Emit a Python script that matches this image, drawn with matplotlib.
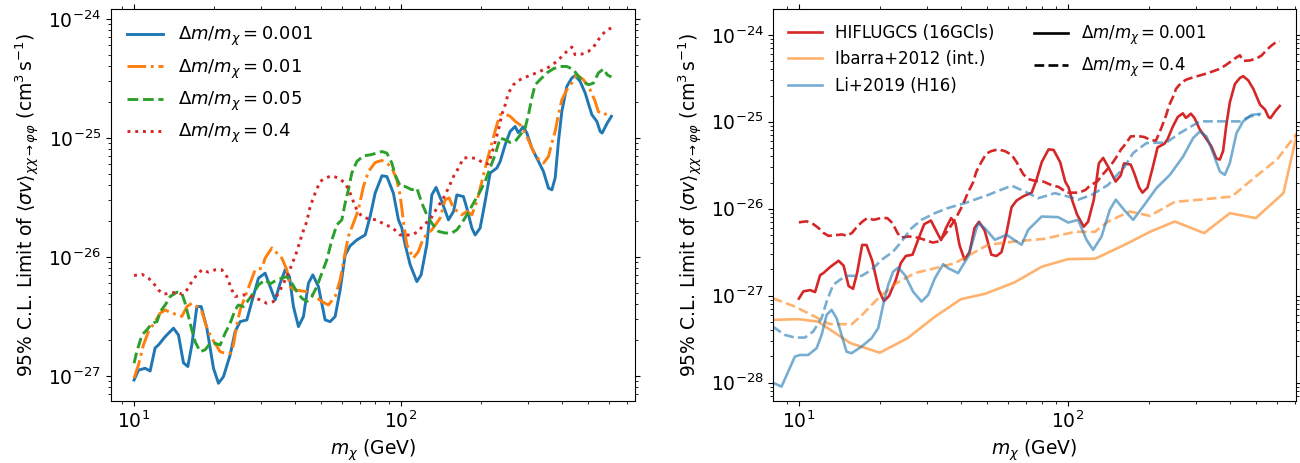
import matplotlib
matplotlib.use("Agg")
import matplotlib.pyplot as plt
from matplotlib.lines import Line2D
from matplotlib.ticker import FixedLocator, NullFormatter

plt.rcParams['font.family'] = ['DejaVu Sans']
plt.rcParams['mathtext.fontset'] = 'dejavusans'

# ---------------- data (left panel) ----------------
# Delta m / m_chi = 0.001  (also HIFLUGCS solid in right panel)
m_001 = [10.0, 10.39, 11.0, 11.49, 11.99, 12.34, 13.08, 14.05, 14.67, 15.31, 15.90, 16.46,
         17.19, 17.84, 18.74, 19.84, 20.71, 21.62, 22.90, 23.91, 24.97, 26.46, 27.62, 29.24,
         30.97, 32.34, 33.77, 35.26, 36.81, 38.19, 39.54, 41.28, 43.10, 45.0, 46.74, 49.05,
         51.96, 54.26, 56.65, 59.15, 61.75, 64.47, 68.3, 73.4, 76.6, 80.0, 84.8, 88.5, 93.6,
         97.8, 100.7, 103.6, 108.2, 114.6, 118.9, 124.9, 130.4, 135.3, 142.2, 150.5, 157.2,
         161.8, 171.3, 176.4, 184.2, 189.5, 197.8, 206.5, 215.6, 228.5, 235.1, 245.5, 256.3,
         267.6, 274.6, 279.3, 286.6, 296.0, 309.0, 322.6, 341.5, 356.6, 367.2, 377.8, 388.7,
         400.2, 417.8, 436.2, 448.7, 468.6, 489.3, 518.4, 541.2, 556.9, 566.6, 591.6, 613.8]
sv_001 = [9.25e-28, 1.12e-27, 1.16e-27, 1.10e-27, 1.72e-27, 1.82e-27, 2.14e-27, 2.52e-27,
          2.21e-27, 1.29e-27, 1.20e-27, 1.82e-27, 3.83e-27, 3.83e-27, 2.52e-27, 1.16e-27,
          8.68e-28, 9.87e-28, 1.50e-27, 2.36e-27, 2.86e-27, 2.96e-27, 4.22e-27, 6.64e-27,
          7.31e-27, 5.63e-27, 4.35e-27, 6.02e-27, 7.80e-27, 6.84e-27, 3.83e-27, 2.60e-27,
          3.16e-27, 6.02e-27, 7.07e-27, 5.63e-27, 2.96e-27, 2.86e-27, 3.16e-27, 5.28e-27,
          1.04e-26, 1.24e-26, 1.39e-26, 1.53e-26, 2.19e-26, 3.44e-26, 4.81e-26, 4.74e-26,
          3.44e-26, 2.05e-26, 1.75e-26, 1.27e-26, 8.59e-27, 6.21e-27, 7.07e-27, 1.27e-26,
          3.32e-26, 3.84e-26, 2.92e-26, 2.05e-26, 2.41e-26, 3.32e-26, 3.22e-26, 2.57e-26,
          1.75e-26, 1.53e-26, 1.75e-26, 2.92e-26, 5.07e-26, 5.59e-26, 6.34e-26, 8.77e-26,
          1.135e-25, 1.25e-25, 1.11e-25, 1.15e-25, 1.24e-25, 1.10e-25, 8.22e-26, 6.78e-26,
          5.23e-26, 3.79e-26, 3.67e-26, 4.60e-26, 9.35e-26, 1.67e-25, 2.71e-25, 3.19e-25,
          3.34e-25, 2.99e-25, 2.39e-25, 1.57e-25, 1.38e-25, 1.135e-25, 1.10e-25, 1.33e-25,
          1.52e-25]

# Delta m / m_chi = 0.01
m_01 = [10.0, 10.39, 10.84, 11.32, 11.99, 12.53, 13.08, 13.86, 14.67, 15.1, 15.77, 16.46,
        17.19, 17.95, 18.74, 19.56, 21.01, 21.94, 22.90, 23.56, 24.27, 24.97, 26.07, 27.22,
        28.42, 30.11, 30.97, 32.82, 34.26, 35.78, 37.35, 38.43, 40.13, 44.38, 47.68, 50.51,
        53.47, 56.65, 59.15, 61.75, 63.5, 66.3, 69.2, 72.3, 75.5, 80.0, 84.8, 88.5, 92.4,
        96.4, 99.2, 102.1, 105.1, 111.1, 115.9, 121.3, 130.4, 140.1, 146.3, 151.4, 157.2,
        168.9, 176.4, 184.2, 192.3, 200.8, 209.6, 218.8, 228.5, 235.1, 245.5, 256.3, 267.6,
        279.3, 296.0, 313.3, 331.9, 341.5, 356.6, 367.2, 377.8, 388.7, 400.2, 417.8, 436.2,
        455.3, 482.1, 510.8, 533.3, 548.7, 571.5, 601.9, 613.8]
sv_01 = [9.6e-28, 1.24e-27, 1.82e-27, 2.36e-27, 2.86e-27, 3.37e-27, 3.59e-27, 3.37e-27,
         3.26e-27, 3.16e-27, 3.83e-27, 4.08e-27, 3.83e-27, 3.47e-27, 2.52e-27, 2.07e-27,
         1.60e-27, 1.55e-27, 1.55e-27, 1.82e-27, 2.69e-27, 3.59e-27, 4.65e-27, 6.02e-27,
         7.80e-27, 8.05e-27, 9.77e-27, 1.19e-26, 1.08e-26, 9.77e-27, 7.80e-27, 5.63e-27,
         5.28e-27, 5.11e-27, 4.65e-27, 4.22e-27, 3.95e-27, 4.65e-27, 6.42e-27, 1.08e-26,
         1.49e-26, 1.92e-26, 2.49e-26, 3.91e-26, 5.23e-26, 6.22e-26, 6.47e-26, 6.15e-26,
         5.61e-26, 4.45e-26, 3.32e-26, 1.99e-26, 1.27e-26, 9.77e-27, 1.10e-26, 1.44e-26,
         1.69e-26, 2.12e-26, 3.02e-26, 3.14e-26, 2.57e-26, 2.26e-26, 2.41e-26, 2.26e-26,
         2.92e-26, 4.31e-26, 6.34e-26, 9.06e-26, 1.29e-25, 1.57e-25, 1.59e-25, 1.52e-25,
         1.38e-25, 1.29e-25, 1.03e-25, 7.69e-26, 6.34e-26, 6.15e-26, 6.98e-26, 9.06e-26,
         1.135e-25, 1.57e-25, 2.09e-25, 2.54e-25, 2.89e-25, 3.40e-25, 3.09e-25, 2.54e-25,
         2.03e-25, 1.66e-25, 1.57e-25, 1.62e-25, 1.60e-25]

# Delta m / m_chi = 0.05
m_05 = [10.0, 10.24, 10.70, 11.17, 11.66, 12.19, 12.53, 13.08, 13.65, 14.47, 15.10, 15.54,
        15.99, 16.46, 16.93, 17.69, 18.46, 19.28, 20.13, 21.01, 21.94, 22.90, 23.91, 24.60,
        25.7, 26.82, 28.0, 29.24, 30.97, 32.34, 34.26, 35.78, 37.35, 38.99, 40.71, 42.51,
        44.38, 46.34, 48.37, 50.51, 52.73, 55.06, 57.49, 60.0, 61.75, 63.5, 65.4, 68.3, 72.3,
        76.6, 81.2, 84.8, 88.5, 92.4, 95.0, 99.2, 103.6, 109.8, 114.6, 119.7, 124.9, 130.4,
        138.1, 146.3, 155.0, 161.8, 168.9, 176.4, 186.7, 197.8, 206.5, 215.6, 225.1, 235.1,
        245.5, 256.3, 267.6, 279.3, 291.6, 300.1, 309.0, 317.9, 331.9, 351.6, 372.3, 394.5,
        417.8, 442.3, 461.9, 482.1, 503.4, 525.6, 548.7, 573.4, 591.6, 613.8]
sv_05 = [1.28e-27, 1.60e-27, 2.21e-27, 2.44e-27, 2.77e-27, 2.86e-27, 3.47e-27, 3.95e-27,
         4.65e-27, 5.06e-27, 4.96e-27, 4.08e-27, 3.16e-27, 2.44e-27, 1.94e-27, 1.60e-27,
         1.66e-27, 1.88e-27, 1.88e-27, 1.82e-27, 2.29e-27, 2.77e-27, 3.59e-27, 3.95e-27,
         3.83e-27, 4.35e-27, 4.96e-27, 5.82e-27, 6.42e-27, 5.94e-27, 6.42e-27, 6.64e-27,
         6.84e-27, 6.02e-27, 5.11e-27, 4.50e-27, 4.22e-27, 4.65e-27, 5.63e-27, 7.31e-27,
         9.46e-27, 1.39e-26, 1.86e-26, 2.05e-26, 2.83e-26, 3.67e-26, 5.07e-26, 6.34e-26,
         7.08e-26, 7.21e-26, 7.46e-26, 7.69e-26, 7.46e-26, 6.15e-26, 4.91e-26, 3.96e-26,
         3.91e-26, 3.67e-26, 3.79e-26, 2.83e-26, 2.26e-26, 1.92e-26, 1.64e-26, 1.59e-26,
         1.59e-26, 1.69e-26, 1.92e-26, 2.26e-26, 2.83e-26, 3.55e-26, 4.31e-26, 5.59e-26,
         7.23e-26, 9.98e-26, 9.66e-26, 9.17e-26, 9.35e-26, 1.06e-25, 1.21e-25, 1.57e-25,
         2.17e-25, 2.80e-25, 3.09e-25, 3.52e-25, 3.82e-25, 3.99e-25, 3.99e-25, 3.75e-25,
         3.29e-25, 2.99e-25, 2.80e-25, 2.89e-25, 3.52e-25, 3.80e-25, 3.40e-25, 3.25e-25]

# Delta m / m_chi = 0.4  (also HIFLUGCS dashed in right panel)
m_4 = [10.0, 10.70, 11.32, 11.82, 12.34, 12.89, 13.65, 14.47, 15.10, 15.77, 16.46, 17.19,
       17.95, 18.99, 20.13, 21.32, 22.27, 23.25, 23.91, 25.69, 27.62, 29.67, 31.44, 33.28,
       35.26, 37.35, 38.99, 40.71, 42.51, 44.38, 45.67, 47.68, 49.78, 51.96, 55.06, 58.29,
       61.75, 64.47, 66.3, 68.3, 71.3, 75.5, 81.2, 87.2, 92.4, 99.2, 109.8, 116.2, 121.3,
       128.5, 136.2, 144.1, 150.5, 157.2, 164.1, 171.3, 181.5, 192.3, 203.5, 212.5, 221.8,
       231.6, 238.5, 245.5, 252.5, 263.6, 275.4, 291.6, 309.0, 327.1, 346.5, 361.8, 383.3,
       400.2, 417.8, 436.2, 448.7, 475.6, 503.4, 525.6, 548.7, 571.5, 591.6, 613.8]
sv_4 = [6.98e-27, 7.16e-27, 6.64e-27, 6.02e-27, 5.28e-27, 4.87e-27, 4.96e-27, 5.06e-27,
        4.87e-27, 5.28e-27, 6.21e-27, 7.07e-27, 7.80e-27, 7.45e-27, 7.80e-27, 7.80e-27,
        6.84e-27, 5.28e-27, 4.65e-27, 4.80e-27, 4.65e-27, 4.35e-27, 4.08e-27, 4.22e-27,
        5.28e-27, 6.84e-27, 8.59e-27, 1.11e-26, 1.53e-26, 1.99e-26, 2.66e-26, 3.44e-26,
        4.31e-26, 4.60e-26, 4.81e-26, 4.60e-26, 4.18e-26, 3.44e-26, 2.92e-26, 2.49e-26,
        2.19e-26, 2.09e-26, 2.05e-26, 1.86e-26, 1.78e-26, 1.53e-26, 1.53e-26, 1.64e-26,
        1.86e-26, 2.05e-26, 2.57e-26, 3.12e-26, 3.79e-26, 4.74e-26, 5.59e-26, 6.78e-26,
        6.86e-26, 6.68e-26, 6.15e-26, 6.06e-26, 8.22e-26, 1.17e-25, 1.57e-25, 1.90e-25,
        2.39e-25, 2.80e-25, 3.05e-25, 3.23e-25, 3.40e-25, 3.58e-25, 3.80e-25, 3.99e-25,
        4.40e-25, 4.84e-25, 5.34e-25, 5.81e-25, 5.01e-25, 5.07e-25, 5.34e-25, 5.79e-25,
        6.70e-25, 7.52e-25, 8.13e-25, 8.39e-25]

# ---------------- data (right panel, comparisons) ----------------
m_ibarra = [8.0, 10.0, 11.77, 15.57, 20.0, 25.33, 32.08, 40.06, 49.22, 63.3, 80.2, 100.0,
            126.6, 162.7, 203.2, 249.7, 321.2, 400.5, 499.8, 633.2, 712.0]
sv_ibarra = [5.27e-28, 5.37e-28, 5.03e-28, 2.84e-28, 2.21e-28, 3.24e-28, 5.74e-28, 9.12e-28,
             1.05e-27, 1.42e-27, 2.16e-27, 2.63e-27, 2.67e-27, 3.85e-27, 5.47e-27, 7.13e-27,
             5.24e-27, 8.89e-27, 7.80e-27, 1.51e-26, 7.4e-26]

m_ibarra_04 = [8.0, 9.66, 11.47, 12.93, 15.70, 17.11, 19.72, 22.75, 26.99, 32.04, 38.02, 42.5,
               50.5, 63.5, 82.1, 106.2, 126.0, 141.2, 170.1, 201.8, 250.0, 309.6, 407.2, 499.8,
               598.4, 712.0]
sv_ibarra_04 = [9.35e-28, 7.50e-28, 5.74e-28, 4.73e-28, 4.68e-28, 5.93e-28, 9.35e-28, 1.36e-27,
                1.82e-27, 2.07e-27, 2.36e-27, 2.87e-27, 3.85e-27, 4.20e-27, 4.51e-27, 5.42e-27,
                5.42e-27, 7.13e-27, 9.29e-27, 8.28e-27, 1.20e-26, 1.27e-26, 1.38e-26, 2.35e-26,
                3.66e-26, 7.4e-26]

m_li = [8.0, 8.62, 9.13, 9.66, 10.09, 10.83, 11.64, 12.15, 12.68, 13.23, 13.81, 14.41, 15.04,
        15.70, 17.11, 18.63, 19.72, 20.58, 21.48, 22.42, 23.39, 24.78, 26.60, 28.58, 30.25,
        32.04, 34.39, 35.89, 39.10, 42.61, 46.40, 49.13, 53.54, 59.17, 67.3, 71.2, 79.9, 92.0,
        100.3, 109.2, 117.3, 124.2, 133.4, 143.2, 150.8, 162.9, 174.9, 190.5, 213.7, 239.5,
        268.4, 292.3, 309.6, 327.8, 346.8, 367.4, 383.4, 400.2, 423.8, 448.5, 481.8, 517.4]
sv_li = [1.0e-28, 9.0e-29, 1.34e-28, 1.99e-28, 2.08e-28, 2.08e-28, 2.49e-28, 3.54e-28,
         6.01e-28, 6.87e-28, 5.51e-28, 3.54e-28, 2.27e-28, 2.18e-28, 2.60e-28, 3.24e-28,
         4.23e-28, 7.83e-28, 1.33e-27, 1.89e-27, 2.10e-27, 1.73e-27, 1.11e-27, 8.55e-28,
         1.02e-27, 1.59e-27, 2.30e-27, 2.07e-27, 1.82e-27, 2.82e-27, 6.82e-27, 5.98e-27,
         4.39e-27, 5.01e-27, 3.85e-27, 5.71e-27, 8.13e-27, 8.0e-27, 6.93e-27, 7.45e-27,
         4.39e-27, 3.37e-27, 4.78e-27, 9.70e-27, 1.27e-26, 9.46e-27, 7.45e-27, 1.06e-26,
         1.73e-26, 2.45e-26, 3.99e-26, 6.49e-26, 7.73e-26, 6.78e-26, 4.37e-26, 2.68e-26,
         2.45e-26, 3.35e-26, 7.41e-26, 1.01e-25, 1.20e-25, 1.23e-25]

m_li_04 = [8.0, 8.87, 9.66, 10.53, 11.30, 12.15, 12.68, 13.41, 14.20, 15.04, 17.11, 18.63,
           20.30, 22.42, 24.09, 26.24, 28.58, 32.04, 35.89, 41.41, 50.53, 61.77, 69.2, 77.6,
           89.5, 100.3, 109.2, 122.5, 141.2, 162.9, 174.9, 196.1, 232.8, 260.9, 309.6, 367.4,
           435.9, 475.0, 517.4]
sv_li_04 = [4.41e-28, 3.54e-28, 3.30e-28, 3.30e-28, 3.87e-28, 5.51e-28, 8.55e-28, 1.33e-27,
            1.52e-27, 1.69e-27, 1.69e-27, 1.98e-27, 2.58e-27, 3.22e-27, 4.20e-27, 5.98e-27,
            7.45e-27, 8.89e-27, 1.02e-26, 1.16e-26, 1.44e-26, 1.84e-26, 1.58e-26, 1.32e-26,
            1.51e-26, 1.38e-26, 1.27e-26, 1.44e-26, 1.88e-26, 3.06e-26, 4.37e-26, 5.69e-26,
            5.78e-26, 7.41e-26, 1.01e-25, 1.01e-25, 1.01e-25, 1.15e-25, 1.20e-25]

left_labels = [r'$\Delta m/m_\chi = 0.001$', r'$\Delta m/m_\chi = 0.01$',
               r'$\Delta m/m_\chi = 0.05$', r'$\Delta m/m_\chi = 0.4$']
right_labels = ['HIFLUGCS (16GCls)', 'Ibarra+2012 (int.)', 'Li+2019 (H16)']
style_labels = [r'$\Delta m/m_\chi = 0.001$', r'$\Delta m/m_\chi = 0.4$']

ylabel = r'95% C.L. Limit of $\langle\sigma v\rangle_{\chi\chi\to\varphi\varphi}$ (cm$^3\,$s$^{-1}$)'
xlabel = r'$m_\chi$ (GeV)'

# tick positions (within the visible ranges)
x_major = [10, 100]
x_minor = [8, 9, 20, 30, 40, 50, 60, 70, 80, 90, 200, 300, 400, 500, 600, 700]
y_major_left = [1e-27, 1e-26, 1e-25, 1e-24]
y_major_right = [1e-28, 1e-27, 1e-26, 1e-25, 1e-24]

# ---------------- figure ----------------
FS = 13.5
fig = plt.figure(figsize=(13, 4.63), dpi=100)
ax1 = fig.add_axes([0.0852, 0.1339, 0.4030, 0.8467])
ax2 = fig.add_axes([0.5948, 0.1339, 0.4021, 0.8467])

C_BLUE, C_ORANGE, C_GREEN, C_RED = '#1f77b4', '#ff7f0e', '#2ca02c', '#d62728'

lw = 2.1
ax1.plot(m_001, sv_001, color=C_BLUE, ls='-', lw=lw, label=left_labels[0])
ax1.plot(m_01, sv_01, color=C_ORANGE, ls='-.', lw=lw, label=left_labels[1])
ax1.plot(m_05, sv_05, color=C_GREEN, ls='--', lw=lw, label=left_labels[2])
ax1.plot(m_4, sv_4, color=C_RED, ls=':', lw=lw, label=left_labels[3])
ax1.set_xscale('log')
ax1.set_yscale('log')
xl1 = (8.18, 750)
yl1 = (6.16e-28, 1.213e-24)
ax1.set_xlim(*xl1)
ax1.set_ylim(*yl1)
ax1.legend(loc='upper left', frameon=False, fontsize=13)

lw2 = 1.9
ax2.plot(m_001, sv_001, color=C_RED, ls='-', lw=lw2)
ax2.plot(m_4, sv_4, color=C_RED, ls='--', lw=lw2)
ax2.plot(m_ibarra, sv_ibarra, color=C_ORANGE, alpha=0.6, ls='-', lw=lw2)
ax2.plot(m_ibarra_04, sv_ibarra_04, color=C_ORANGE, alpha=0.6, ls='--', lw=lw2)
ax2.plot(m_li, sv_li, color=C_BLUE, alpha=0.6, ls='-', lw=lw2)
ax2.plot(m_li_04, sv_li_04, color=C_BLUE, alpha=0.6, ls='--', lw=lw2)
ax2.set_xscale('log')
ax2.set_yscale('log')
xl2 = (8.03, 705)
yl2 = (6.15e-29, 1.98e-24)
ax2.set_xlim(*xl2)
ax2.set_ylim(*yl2)

h1 = [Line2D([], [], color=C_RED, lw=lw2),
      Line2D([], [], color=C_ORANGE, alpha=0.6, lw=lw2),
      Line2D([], [], color=C_BLUE, alpha=0.6, lw=lw2)]
leg1 = ax2.legend(h1, right_labels, loc='upper left', frameon=False, fontsize=12)
ax2.add_artist(leg1)
h2 = [Line2D([], [], color='k', ls='-', lw=lw2),
      Line2D([], [], color='k', ls='--', lw=lw2)]
ax2.legend(h2, style_labels, loc='upper left', bbox_to_anchor=(0.471, 1.0),
           frameon=False, fontsize=12)


def minor_y(lo, hi):
    out = []
    for e in range(-30, -22):
        for k in range(2, 10):
            v = k * 10.0 ** e
            if lo <= v <= hi:
                out.append(v)
    return out


for ax, xl, yl, ymaj in ((ax1, xl1, yl1, y_major_left), (ax2, xl2, yl2, y_major_right)):
    ax.xaxis.set_major_locator(FixedLocator(x_major))
    ax.xaxis.set_minor_locator(FixedLocator([v for v in x_minor if xl[0] <= v <= xl[1]]))
    ax.xaxis.set_minor_formatter(NullFormatter())
    ax.yaxis.set_major_locator(FixedLocator(ymaj))
    ax.yaxis.set_minor_locator(FixedLocator(minor_y(*yl)))
    ax.yaxis.set_minor_formatter(NullFormatter())
    ax.tick_params(which='both', top=True, right=True, labelsize=FS)
    ax.set_xlabel(xlabel, fontsize=FS)
    ax.set_ylabel(ylabel, fontsize=FS)

fig.savefig('out.png', dpi=100)
